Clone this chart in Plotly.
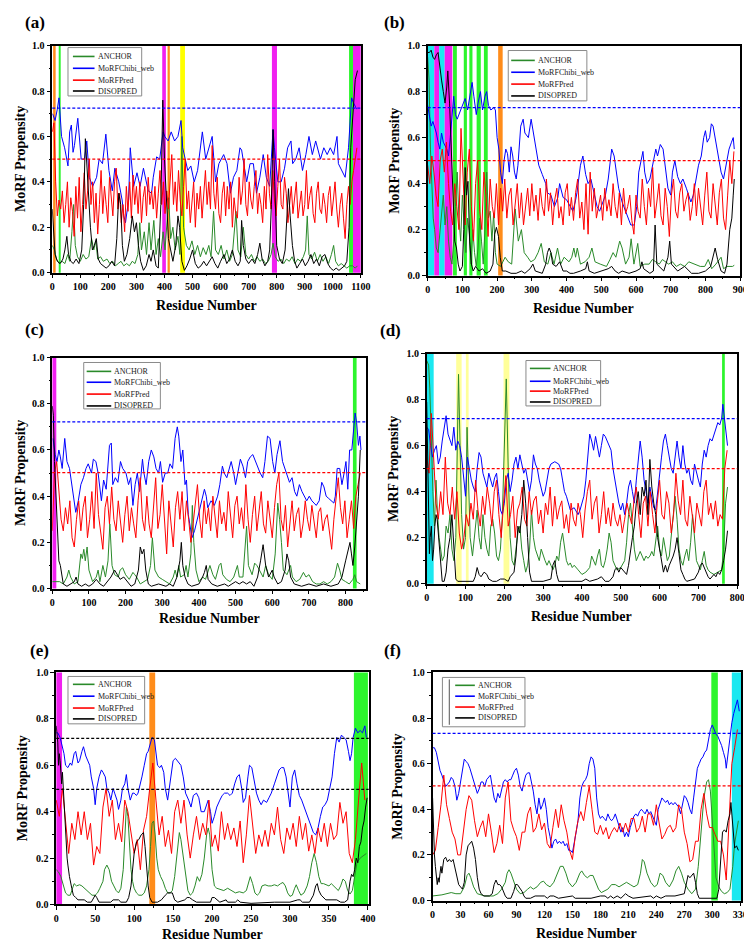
import plotly.graph_objects as go

W, H = 752, 941
SERIES_NAMES = ["ANCHOR", "MoRFChibi_web", "MoRFPred", "DISOPRED"]

# ---------------- Panel (a) ----------------
A_GREEN = [(0,0.12),(8,0.10),(15,0.06),(25,0.04),(35,0.05),(45,0.04),(55,0.08),(62,0.05),(70,0.18),(76,0.30),(82,0.12),(90,0.07),(100,0.05),(110,0.08),(120,0.06),(130,0.07),(140,0.15),(148,0.10),(155,0.14),(162,0.06),(172,0.07),(182,0.05),(195,0.06),(205,0.04),(215,0.05),(225,0.03),(235,0.04),(245,0.05),(255,0.03),(265,0.04),(275,0.03),(285,0.05),(295,0.04),(305,0.08),(312,0.22),(318,0.10),(328,0.18),(336,0.08),(345,0.22),(352,0.10),(362,0.23),(370,0.08),(378,0.15),(386,0.07),(395,0.18),(402,0.10),(415,0.33),(422,0.15),(430,0.20),(438,0.10),(448,0.16),(455,0.08),(462,0.60),(468,0.20),(478,0.12),(488,0.10),(498,0.14),(508,0.08),(518,0.12),(528,0.07),(538,0.11),(548,0.08),(558,0.12),(566,0.07),(575,0.27),(582,0.10),(592,0.08),(602,0.12),(612,0.06),(622,0.10),(632,0.05),(642,0.08),(655,0.27),(662,0.10),(672,0.07),(681,0.20),(690,0.08),(700,0.06),(710,0.08),(720,0.05),(730,0.07),(740,0.05),(750,0.06),(760,0.04),(770,0.05),(780,0.08),(787,0.13),(795,0.07),(805,0.05),(815,0.06),(825,0.04),(835,0.06),(845,0.05),(855,0.07),(865,0.04),(875,0.06),(885,0.05),(895,0.07),(903,0.10),(909,0.25),(915,0.08),(925,0.06),(935,0.09),(945,0.05),(955,0.08),(965,0.05),(975,0.07),(985,0.04),(995,0.08),(1003,0.12),(1010,0.05),(1020,0.03),(1030,0.04),(1040,0.03),(1050,0.02),(1060,0.03),(1070,0.03),(1080,0.02),(1088,0.03)]
A_BLUE = [(1,0.70),(10,0.67),(18,0.72),(24,0.77),(33,0.60),(44,0.55),(56,0.47),(62,0.62),(68,0.65),(74,0.53),(79,0.56),(91,0.68),(103,0.50),(115,0.50),(123,0.58),(132,0.42),(144,0.38),(158,0.42),(167,0.50),(179,0.48),(191,0.61),(202,0.45),(214,0.36),(223,0.46),(237,0.40),(249,0.32),(255,0.25),(261,0.22),(272,0.32),(278,0.55),(290,0.38),(302,0.44),(313,0.38),(325,0.46),(342,0.36),(354,0.35),(360,0.42),(372,0.51),(383,0.50),(395,0.62),(401,0.60),(413,0.58),(424,0.62),(436,0.58),(448,0.60),(459,0.67),(465,0.55),(483,0.45),(494,0.47),(506,0.40),(518,0.45),(535,0.62),(547,0.50),(559,0.55),(570,0.60),(582,0.40),(594,0.48),(611,0.52),(623,0.48),(635,0.35),(646,0.42),(658,0.45),(669,0.55),(675,0.54),(693,0.40),(705,0.48),(717,0.48),(728,0.35),(740,0.42),(752,0.52),(763,0.42),(775,0.38),(781,0.50),(787,0.63),(792,0.55),(804,0.40),(816,0.40),(828,0.46),(839,0.55),(851,0.58),(857,0.48),(868,0.50),(880,0.55),(892,0.45),(904,0.52),(915,0.60),(927,0.52),(939,0.58),(956,0.50),(968,0.55),(980,0.52),(991,0.55),(1003,0.52),(1015,0.60),(1020,0.48),(1032,0.45),(1044,0.42),(1056,0.55),(1067,0.77),(1073,0.75),(1085,0.72)]
A_RED_X = list(range(0, 1092, 6))
A_RED_Y = [0.62,0.66,0.40,0.25,0.32,0.28,0.36,0.22,0.30,0.40,
           0.20,0.33,0.27,0.16,0.38,0.24,0.42,0.18,0.30,0.44,
           0.28,0.36,0.50,0.30,0.40,0.22,0.35,0.17,0.30,0.45,
           0.26,0.38,0.30,0.22,0.42,0.32,0.25,0.40,0.46,0.28,
           0.35,0.22,0.30,0.18,0.38,0.27,0.40,0.24,0.43,0.30,
           0.38,0.26,0.40,0.22,0.33,0.38,0.25,0.42,0.30,0.36,
           0.28,0.38,0.24,0.35,0.45,0.30,0.40,0.26,0.36,0.28,
           0.42,0.52,0.30,0.40,0.27,0.45,0.32,0.25,0.38,0.50,
           0.28,0.36,0.22,0.32,0.40,0.20,0.35,0.28,0.38,0.24,
           0.34,0.45,0.30,0.40,0.28,0.56,0.35,0.28,0.42,0.26,
           0.22,0.35,0.40,0.25,0.38,0.28,0.40,0.20,0.33,0.26,
           0.24,0.42,0.30,0.36,0.50,0.30,0.25,0.40,0.32,0.28,
           0.38,0.45,0.26,0.35,0.30,0.22,0.38,0.28,0.52,0.35,
           0.28,0.45,0.32,0.25,0.38,0.50,0.30,0.28,0.42,0.35,
           0.22,0.32,0.38,0.26,0.35,0.40,0.24,0.30,0.36,0.25,
           0.30,0.45,0.28,0.34,0.38,0.26,0.22,0.35,0.40,0.28,
           0.26,0.35,0.30,0.22,0.34,0.38,0.25,0.32,0.40,0.28,
           0.20,0.30,0.35,0.24,0.15,0.30,0.38,0.30,0.40,0.45,
           0.50,0.55]
A_BLACK = [(0,0.28),(5,0.20),(10,0.08),(18,0.05),(28,0.04),(38,0.06),(45,0.10),(52,0.16),(58,0.08),(66,0.05),(75,0.04),(85,0.06),(95,0.04),(105,0.10),(112,0.30),(118,0.59),(124,0.45),(130,0.35),(136,0.20),(143,0.10),(150,0.12),(157,0.15),(164,0.06),(172,0.04),(182,0.03),(192,0.02),(202,0.03),(212,0.05),(222,0.03),(230,0.15),(237,0.35),(244,0.30),(250,0.12),(257,0.05),(266,0.08),(276,0.15),(285,0.25),(293,0.18),(300,0.22),(307,0.12),(315,0.05),(325,0.01),(335,0.03),(345,0.08),(352,0.05),(360,0.10),(370,0.03),(378,0.02),(387,0.30),(394,0.76),(400,0.50),(406,0.35),(414,0.15),(422,0.10),(430,0.05),(440,0.12),(448,0.25),(454,0.20),(462,0.05),(471,0.01),(480,0.03),(490,0.06),(500,0.10),(510,0.04),(520,0.02),(530,0.03),(540,0.05),(550,0.03),(560,0.05),(570,0.07),(580,0.04),(590,0.02),(600,0.05),(612,0.08),(622,0.04),(632,0.06),(642,0.10),(652,0.05),(662,0.03),(670,0.05),(675,0.23),(681,0.12),(690,0.06),(700,0.04),(712,0.06),(722,0.04),(732,0.08),(740,0.13),(748,0.06),(758,0.03),(768,0.05),(775,0.10),(781,0.30),(787,0.63),(793,0.40),(800,0.12),(810,0.06),(820,0.04),(830,0.10),(838,0.30),(842,0.37),(848,0.25),(856,0.12),(864,0.05),(872,0.02),(882,0.04),(892,0.06),(902,0.03),(912,0.05),(922,0.08),(932,0.04),(942,0.06),(952,0.03),(962,0.07),(972,0.08),(982,0.04),(992,0.02),(1002,0.01),(1012,0.02),(1022,0.01),(1032,0.02),(1042,0.03),(1050,0.05),(1058,0.20),(1064,0.55),(1072,0.72),(1080,0.85),(1088,0.89)]

# ---------------- Panel (b) ----------------
B_GREEN = [(0,0.95),(4,0.85),(8,0.55),(12,0.35),(16,0.25),(20,0.20),(25,0.12),(30,0.10),(35,0.18),(40,0.25),(45,0.35),(50,0.22),(55,0.30),(60,0.15),(65,0.08),(70,0.05),(75,0.15),(80,0.30),(85,0.45),(90,0.25),(95,0.15),(100,0.35),(105,0.20),(110,0.10),(115,0.25),(120,0.18),(125,0.05),(130,0.20),(135,0.10),(140,0.04),(145,0.12),(150,0.25),(155,0.15),(160,0.05),(165,0.20),(170,0.45),(175,0.25),(180,0.28),(185,0.15),(190,0.27),(195,0.10),(200,0.05),(210,0.04),(223,0.08),(232,0.06),(242,0.05),(252,0.29),(261,0.15),(270,0.20),(278,0.10),(288,0.08),(297,0.06),(308,0.07),(318,0.10),(327,0.14),(336,0.06),(346,0.05),(355,0.10),(364,0.05),(374,0.12),(383,0.05),(393,0.08),(407,0.06),(415,0.08),(421,0.12),(426,0.08),(431,0.12),(440,0.05),(453,0.06),(465,0.08),(473,0.12),(482,0.06),(497,0.05),(515,0.04),(525,0.07),(534,0.10),(542,0.08),(553,0.15),(560,0.12),(570,0.05),(580,0.08),(586,0.16),(594,0.05),(605,0.14),(612,0.04),(625,0.05),(638,0.05),(647,0.07),(657,0.06),(667,0.05),(676,0.07),(685,0.06),(694,0.05),(705,0.06),(716,0.04),(728,0.05),(740,0.04),(752,0.06),(770,0.05),(785,0.04),(798,0.04),(808,0.07),(818,0.03),(830,0.05),(845,0.08),(852,0.03),(862,0.04),(878,0.04),(883,0.045)]
B_BLUE = [(0,0.74),(5,0.70),(10,0.65),(15,0.67),(25,0.62),(30,0.58),(35,0.55),(40,0.62),(45,0.58),(55,0.55),(60,0.52),(65,0.60),(70,0.70),(75,0.78),(80,0.70),(85,0.68),(95,0.72),(100,0.74),(108,0.77),(115,0.72),(120,0.76),(128,0.84),(133,0.78),(140,0.70),(145,0.75),(152,0.80),(158,0.72),(165,0.78),(170,0.80),(175,0.74),(182,0.72),(190,0.73),(195,0.72),(200,0.60),(205,0.55),(210,0.45),(215,0.40),(220,0.50),(225,0.55),(230,0.53),(235,0.45),(240,0.56),(245,0.52),(250,0.45),(255,0.42),(260,0.48),(268,0.65),(275,0.68),(280,0.62),(290,0.60),(298,0.68),(305,0.62),(312,0.55),(320,0.48),(330,0.44),(340,0.40),(345,0.36),(355,0.35),(365,0.30),(375,0.34),(380,0.40),(390,0.34),(400,0.33),(410,0.30),(418,0.28),(425,0.32),(430,0.36),(440,0.48),(447,0.52),(455,0.44),(462,0.40),(470,0.42),(480,0.36),(488,0.30),(495,0.28),(505,0.32),(512,0.35),(520,0.42),(530,0.55),(537,0.52),(545,0.44),(550,0.38),(560,0.32),(570,0.28),(578,0.25),(585,0.22),(595,0.22),(602,0.30),(608,0.45),(615,0.50),(620,0.54),(625,0.45),(632,0.40),(640,0.42),(650,0.50),(657,0.55),(662,0.52),(670,0.57),(678,0.55),(685,0.45),(692,0.38),(700,0.35),(705,0.45),(712,0.50),(720,0.43),(728,0.40),(735,0.42),(745,0.38),(750,0.36),(758,0.32),(765,0.35),(772,0.42),(780,0.48),(788,0.52),(795,0.60),(800,0.63),(805,0.58),(812,0.60),(817,0.66),(822,0.65),(830,0.58),(838,0.50),(845,0.45),(852,0.42),(858,0.47),(862,0.50),(868,0.55),(875,0.58),(880,0.60),(883,0.55)]
B_RED_X = list(range(0, 888, 6))
B_RED_Y = [0.48,0.40,0.52,0.45,0.35,0.30,0.50,0.55,0.45,0.58,
           0.40,0.28,0.22,0.40,0.30,0.20,0.64,0.40,0.22,0.45,
           0.55,0.30,0.15,0.40,0.50,0.28,0.20,0.45,0.35,0.17,
           0.42,0.30,0.25,0.40,0.22,0.38,0.28,0.42,0.25,0.35,
           0.38,0.22,0.32,0.40,0.25,0.36,0.22,0.30,0.38,0.26,
           0.40,0.28,0.35,0.24,0.38,0.30,0.26,0.42,0.28,0.36,
           0.22,0.33,0.38,0.25,0.30,0.22,0.36,0.40,0.26,0.34,
           0.24,0.36,0.42,0.25,0.32,0.20,0.40,0.18,0.45,0.28,
           0.38,0.25,0.30,0.35,0.24,0.38,0.28,0.33,0.26,0.40,
           0.30,0.25,0.36,0.22,0.38,0.27,0.30,0.35,0.24,0.18,
           0.35,0.28,0.25,0.42,0.30,0.22,0.38,0.30,0.47,0.25,
           0.32,0.40,0.26,0.22,0.38,0.30,0.17,0.35,0.42,0.28,
           0.25,0.36,0.40,0.28,0.33,0.36,0.24,0.30,0.40,0.26,
           0.38,0.30,0.22,0.35,0.45,0.28,0.25,0.40,0.32,0.22,
           0.36,0.42,0.25,0.20,0.35,0.50,0.40,0.54]
B_BLACK = [(0,0.97),(5,0.97),(10,0.98),(15,0.95),(20,0.94),(25,0.96),(30,0.97),(35,0.90),(40,0.85),(45,0.80),(50,0.75),(55,0.82),(58,0.89),(63,0.75),(68,0.55),(73,0.30),(78,0.15),(83,0.12),(88,0.05),(93,0.02),(100,0.04),(104,0.20),(108,0.47),(112,0.35),(116,0.41),(121,0.15),(126,0.05),(131,0.02),(138,0.04),(148,0.02),(158,0.03),(168,0.01),(180,0.02),(188,0.05),(193,0.18),(198,0.21),(204,0.17),(209,0.08),(215,0.02),(225,0.02),(240,0.01),(255,0.01),(270,0.02),(280,0.01),(295,0.03),(303,0.05),(310,0.02),(330,0.01),(340,0.05),(345,0.10),(350,0.12),(355,0.10),(360,0.05),(370,0.04),(380,0.06),(390,0.02),(400,0.02),(410,0.01),(420,0.01),(440,0.02),(455,0.03),(460,0.06),(465,0.02),(480,0.01),(500,0.02),(520,0.03),(530,0.04),(540,0.02),(550,0.01),(560,0.02),(580,0.01),(600,0.02),(612,0.03),(617,0.06),(622,0.03),(640,0.01),(650,0.02),(655,0.22),(660,0.05),(680,0.02),(692,0.08),(697,0.15),(702,0.05),(720,0.02),(740,0.04),(760,0.01),(780,0.01),(800,0.02),(815,0.04),(828,0.12),(835,0.07),(845,0.02),(855,0.01),(862,0.05),(870,0.20),(876,0.25),(880,0.35),(883,0.42)]

# ---------------- Panel (c) ----------------
C_GREEN = [(0,0.03),(10,0.03),(20,0.03),(30,0.02),(40,0.05),(45,0.08),(50,0.05),(60,0.02),(70,0.03),(78,0.15),(82,0.13),(86,0.17),(90,0.12),(95,0.18),(100,0.08),(110,0.03),(120,0.05),(125,0.08),(130,0.03),(138,0.10),(145,0.05),(152,0.12),(157,0.28),(163,0.10),(170,0.06),(180,0.05),(185,0.08),(192,0.09),(200,0.06),(210,0.04),(220,0.07),(225,0.06),(230,0.05),(240,0.02),(250,0.03),(260,0.04),(268,0.10),(273,0.22),(280,0.08),(290,0.05),(300,0.04),(310,0.03),(320,0.02),(330,0.05),(335,0.08),(340,0.05),(345,0.10),(350,0.05),(360,0.06),(365,0.10),(370,0.05),(378,0.15),(382,0.36),(386,0.20),(392,0.08),(400,0.03),(410,0.05),(418,0.04),(425,0.08),(430,0.10),(438,0.06),(445,0.04),(455,0.10),(460,0.11),(465,0.06),(475,0.04),(485,0.03),(495,0.05),(505,0.10),(510,0.05),(520,0.05),(527,0.18),(530,0.27),(535,0.10),(545,0.06),(552,0.11),(558,0.10),(565,0.08),(575,0.05),(582,0.10),(590,0.06),(600,0.04),(608,0.15),(615,0.37),(620,0.30),(625,0.20),(630,0.08),(640,0.06),(650,0.10),(655,0.05),(665,0.03),(675,0.04),(685,0.07),(692,0.05),(700,0.06),(710,0.03),(720,0.02),(730,0.02),(740,0.03),(750,0.02),(760,0.03),(770,0.05),(778,0.11),(784,0.08),(790,0.04),(800,0.03),(810,0.02),(820,0.04),(825,0.06),(830,0.03),(840,0.02)]
C_BLUE = [(2,0.65),(8,0.58),(13,0.55),(18,0.60),(22,0.57),(27,0.52),(34,0.65),(40,0.55),(47,0.52),(54,0.45),(58,0.40),(64,0.33),(71,0.38),(78,0.45),(85,0.48),(92,0.52),(98,0.54),(107,0.50),(112,0.56),(119,0.55),(125,0.50),(134,0.38),(140,0.47),(147,0.43),(156,0.62),(161,0.63),(165,0.45),(172,0.48),(179,0.46),(186,0.55),(192,0.52),(201,0.50),(208,0.45),(214,0.48),(220,0.36),(226,0.45),(232,0.50),(238,0.42),(246,0.56),(250,0.50),(256,0.45),(263,0.55),(270,0.60),(277,0.57),(283,0.52),(290,0.50),(295,0.55),(301,0.46),(308,0.50),(315,0.50),(321,0.54),(328,0.52),(335,0.65),(341,0.70),(345,0.66),(351,0.55),(356,0.60),(362,0.45),(366,0.47),(371,0.32),(375,0.28),(381,0.22),(388,0.25),(396,0.30),(402,0.35),(408,0.38),(415,0.43),(420,0.40),(424,0.35),(433,0.38),(442,0.36),(451,0.40),(457,0.45),(464,0.53),(469,0.50),(476,0.48),(482,0.52),(488,0.55),(495,0.50),(500,0.45),(506,0.50),(513,0.56),(520,0.53),(527,0.48),(533,0.55),(540,0.57),(547,0.58),(554,0.55),(560,0.53),(567,0.50),(574,0.48),(580,0.55),(587,0.66),(594,0.65),(601,0.55),(607,0.50),(613,0.58),(621,0.64),(628,0.55),(634,0.52),(640,0.50),(647,0.46),(654,0.48),(661,0.42),(667,0.40),(674,0.45),(681,0.42),(687,0.40),(694,0.38),(701,0.40),(708,0.38),(714,0.37),(720,0.36),(728,0.38),(735,0.46),(741,0.44),(747,0.40),(754,0.39),(761,0.38),(768,0.37),(772,0.40),(777,0.52),(784,0.52),(790,0.45),(796,0.50),(801,0.55),(806,0.43),(811,0.60),(817,0.60),(823,0.70),(826,0.76),(830,0.72),(835,0.62),(839,0.66),(842,0.60)]
C_RED_X = list(range(0, 846, 6))
C_RED_Y = [0.25,0.50,0.55,0.40,0.30,0.25,0.35,0.28,0.38,0.22,
           0.18,0.30,0.38,0.25,0.35,0.40,0.22,0.30,0.42,0.26,
           0.50,0.32,0.25,0.17,0.35,0.40,0.28,0.44,0.30,0.25,
           0.38,0.28,0.20,0.32,0.40,0.25,0.35,0.28,0.22,0.38,
           0.48,0.30,0.25,0.40,0.28,0.22,0.35,0.48,0.26,0.32,
           0.45,0.30,0.15,0.38,0.28,0.18,0.35,0.42,0.30,0.42,
           0.25,0.38,0.30,0.20,0.28,0.36,0.45,0.30,0.22,0.38,
           0.28,0.35,0.25,0.40,0.30,0.22,0.38,0.28,0.33,0.25,
           0.42,0.30,0.22,0.36,0.40,0.28,0.35,0.26,0.45,0.30,
           0.20,0.32,0.40,0.25,0.35,0.42,0.28,0.24,0.38,0.30,
           0.22,0.35,0.45,0.50,0.30,0.25,0.36,0.18,0.28,0.38,
           0.25,0.32,0.35,0.22,0.28,0.38,0.30,0.25,0.36,0.28,
           0.22,0.33,0.35,0.25,0.30,0.32,0.24,0.17,0.30,0.40,
           0.48,0.35,0.28,0.38,0.22,0.30,0.38,0.26,0.40,0.45,
           0.50]
C_BLACK = [(0,0.79),(3,0.75),(6,0.55),(9,0.45),(12,0.30),(15,0.20),(18,0.12),(22,0.10),(26,0.05),(30,0.02),(40,0.01),(50,0.02),(60,0.03),(65,0.05),(70,0.02),(80,0.01),(90,0.02),(100,0.01),(110,0.02),(120,0.04),(130,0.02),(140,0.01),(150,0.03),(160,0.05),(170,0.08),(178,0.06),(185,0.04),(195,0.05),(205,0.03),(215,0.01),(225,0.02),(235,0.08),(240,0.18),(245,0.15),(250,0.17),(255,0.08),(262,0.02),(270,0.01),(290,0.02),(310,0.01),(320,0.02),(330,0.01),(340,0.05),(348,0.12),(352,0.20),(356,0.10),(362,0.05),(370,0.02),(380,0.01),(400,0.02),(410,0.05),(415,0.07),(420,0.10),(425,0.04),(435,0.02),(450,0.01),(470,0.02),(480,0.01),(490,0.02),(500,0.03),(510,0.02),(520,0.03),(530,0.02),(540,0.03),(550,0.01),(560,0.05),(568,0.12),(575,0.19),(582,0.10),(590,0.05),(600,0.08),(605,0.05),(615,0.02),(625,0.03),(635,0.08),(640,0.15),(645,0.12),(650,0.05),(660,0.02),(680,0.01),(700,0.02),(720,0.01),(740,0.02),(760,0.01),(780,0.02),(790,0.05),(800,0.12),(807,0.17),(812,0.20),(816,0.15),(820,0.10),(825,0.18),(830,0.28),(835,0.40),(840,0.60)]

# ---------------- Panel (d) ----------------
D_GREEN = [(0,0.97),(5,0.95),(8,0.85),(12,0.60),(16,0.40),(20,0.25),(24,0.45),(28,0.30),(32,0.20),(36,0.15),(40,0.10),(45,0.12),(50,0.25),(55,0.22),(60,0.30),(65,0.15),(70,0.10),(75,0.20),(78,0.50),(82,0.91),(86,0.60),(90,0.30),(95,0.15),(100,0.20),(104,0.68),(108,0.40),(112,0.20),(118,0.12),(125,0.25),(130,0.32),(135,0.20),(140,0.15),(145,0.30),(150,0.20),(155,0.15),(160,0.12),(165,0.25),(170,0.28),(175,0.22),(180,0.12),(185,0.10),(190,0.15),(195,0.30),(200,0.60),(205,0.89),(210,0.50),(215,0.20),(220,0.10),(225,0.08),(230,0.15),(235,0.22),(240,0.25),(245,0.15),(250,0.10),(255,0.05),(260,0.08),(265,0.15),(270,0.32),(275,0.20),(280,0.15),(285,0.12),(290,0.10),(295,0.15),(300,0.12),(305,0.10),(310,0.08),(315,0.10),(320,0.08),(325,0.06),(330,0.08),(335,0.12),(340,0.10),(345,0.18),(350,0.22),(355,0.15),(360,0.10),(365,0.08),(370,0.09),(375,0.07),(380,0.08),(390,0.06),(400,0.04),(410,0.05),(420,0.07),(425,0.12),(430,0.10),(435,0.08),(440,0.12),(445,0.15),(450,0.08),(455,0.07),(460,0.10),(465,0.15),(470,0.22),(475,0.18),(480,0.10),(485,0.08),(490,0.06),(500,0.07),(510,0.10),(515,0.18),(520,0.30),(525,0.35),(530,0.25),(535,0.15),(540,0.10),(545,0.12),(550,0.14),(555,0.12),(560,0.10),(565,0.12),(570,0.11),(575,0.12),(580,0.14),(585,0.12),(590,0.18),(595,0.25),(600,0.15),(605,0.12),(610,0.20),(615,0.15),(620,0.10),(625,0.12),(630,0.20),(635,0.30),(640,0.38),(645,0.28),(650,0.15),(655,0.10),(660,0.08),(665,0.12),(670,0.15),(675,0.10),(680,0.18),(685,0.30),(690,0.20),(695,0.10),(700,0.08),(705,0.06),(710,0.10),(715,0.14),(720,0.08),(725,0.06),(730,0.05),(740,0.04),(750,0.05),(760,0.06),(765,0.15),(770,0.35),(775,0.42)]
D_BLUE = [(0,0.68),(5,0.67),(10,0.60),(15,0.55),(20,0.58),(25,0.60),(30,0.52),(35,0.55),(40,0.62),(45,0.68),(50,0.73),(55,0.65),(60,0.62),(65,0.60),(70,0.68),(75,0.58),(80,0.62),(85,0.60),(90,0.55),(95,0.45),(100,0.38),(105,0.55),(110,0.50),(115,0.45),(120,0.42),(125,0.40),(130,0.50),(135,0.57),(140,0.55),(145,0.48),(150,0.45),(155,0.42),(160,0.48),(165,0.45),(170,0.42),(175,0.46),(180,0.48),(185,0.40),(190,0.32),(195,0.30),(200,0.35),(205,0.45),(210,0.48),(215,0.40),(220,0.45),(225,0.52),(230,0.55),(235,0.50),(240,0.56),(245,0.52),(250,0.48),(255,0.50),(260,0.45),(265,0.40),(270,0.45),(275,0.56),(280,0.52),(285,0.50),(290,0.45),(295,0.42),(300,0.38),(305,0.40),(310,0.45),(315,0.50),(320,0.52),(330,0.53),(340,0.52),(345,0.50),(350,0.45),(355,0.40),(360,0.38),(365,0.35),(370,0.32),(380,0.33),(390,0.30),(395,0.32),(400,0.35),(405,0.38),(410,0.45),(415,0.55),(420,0.65),(425,0.62),(430,0.58),(435,0.64),(440,0.60),(445,0.55),(450,0.60),(455,0.65),(460,0.64),(465,0.62),(470,0.60),(475,0.58),(480,0.50),(485,0.45),(490,0.40),(495,0.35),(500,0.32),(505,0.35),(510,0.30),(515,0.35),(520,0.42),(525,0.45),(530,0.40),(535,0.35),(540,0.45),(545,0.55),(550,0.62),(555,0.55),(560,0.45),(565,0.40),(570,0.35),(575,0.42),(580,0.38),(585,0.33),(590,0.32),(595,0.40),(600,0.50),(605,0.55),(610,0.62),(615,0.65),(620,0.60),(625,0.55),(630,0.50),(635,0.48),(640,0.55),(645,0.62),(650,0.55),(655,0.50),(660,0.60),(665,0.52),(670,0.48),(675,0.50),(680,0.45),(685,0.43),(690,0.52),(695,0.48),(700,0.45),(705,0.42),(710,0.52),(715,0.58),(720,0.55),(725,0.60),(730,0.63),(735,0.62),(740,0.65),(745,0.68),(750,0.70),(755,0.69),(760,0.72),(763,0.78),(768,0.70),(772,0.65),(775,0.60)]
D_RED_X = list(range(0, 780, 6))
D_RED_Y = [0.55,0.48,0.74,0.55,0.35,0.28,0.40,0.30,0.55,0.35,
           0.30,0.42,0.28,0.40,0.22,0.15,0.20,0.30,0.25,0.35,
           0.28,0.45,0.32,0.25,0.38,0.30,0.42,0.35,0.25,0.40,
           0.45,0.30,0.20,0.35,0.47,0.25,0.30,0.38,0.20,0.32,
           0.35,0.42,0.28,0.25,0.40,0.30,0.36,0.38,0.26,0.32,
           0.22,0.35,0.30,0.42,0.25,0.38,0.28,0.33,0.36,0.24,
           0.30,0.22,0.35,0.28,0.25,0.35,0.30,0.20,0.32,0.40,
           0.45,0.28,0.35,0.38,0.22,0.30,0.40,0.26,0.33,0.25,
           0.35,0.28,0.25,0.30,0.22,0.28,0.35,0.30,0.26,0.36,
           0.42,0.30,0.20,0.35,0.38,0.25,0.40,0.30,0.22,0.35,
           0.45,0.30,0.28,0.40,0.35,0.22,0.30,0.48,0.36,0.30,
           0.45,0.28,0.25,0.38,0.30,0.22,0.35,0.30,0.25,0.40,
           0.45,0.30,0.35,0.28,0.36,0.25,0.30,0.28,0.50,0.58]
D_BLACK = [(0,0.79),(3,0.55),(5,0.35),(7,0.13),(9,0.20),(12,0.25),(15,0.10),(18,0.15),(21,0.25),(24,0.30),(27,0.28),(30,0.22),(35,0.10),(40,0.01),(45,0.01),(50,0.05),(55,0.15),(60,0.20),(65,0.30),(70,0.15),(75,0.02),(80,0.01),(100,0.01),(120,0.01),(125,0.03),(130,0.07),(135,0.04),(140,0.03),(148,0.05),(155,0.04),(160,0.02),(170,0.01),(180,0.01),(190,0.02),(200,0.02),(210,0.01),(215,0.03),(220,0.04),(225,0.05),(230,0.12),(235,0.25),(240,0.22),(245,0.30),(250,0.45),(255,0.35),(260,0.20),(265,0.05),(270,0.01),(300,0.01),(320,0.02),(325,0.08),(330,0.10),(335,0.04),(340,0.01),(360,0.01),(380,0.01),(400,0.01),(410,0.02),(420,0.01),(440,0.02),(450,0.03),(460,0.01),(470,0.01),(480,0.03),(485,0.06),(490,0.07),(495,0.05),(500,0.07),(505,0.06),(510,0.05),(515,0.04),(520,0.08),(525,0.15),(530,0.20),(535,0.25),(540,0.35),(545,0.40),(550,0.30),(555,0.42),(560,0.38),(565,0.45),(570,0.30),(575,0.54),(580,0.42),(585,0.35),(590,0.30),(595,0.20),(600,0.15),(605,0.10),(610,0.05),(615,0.08),(620,0.05),(625,0.08),(630,0.10),(635,0.12),(640,0.15),(645,0.20),(650,0.13),(655,0.06),(660,0.04),(665,0.02),(670,0.01),(690,0.02),(700,0.05),(705,0.08),(710,0.09),(715,0.07),(720,0.05),(725,0.03),(730,0.02),(740,0.04),(745,0.03),(750,0.05),(755,0.04),(760,0.06),(765,0.10),(770,0.15),(775,0.23)]

# ---------------- Panel (e) ----------------
E_GREEN = [(0,0.15),(3,0.14),(6,0.12),(9,0.08),(12,0.05),(15,0.04),(18,0.04),(20,0.06),(23,0.09),(26,0.08),(30,0.085),(33,0.08),(36,0.07),(40,0.06),(43,0.05),(46,0.04),(50,0.04),(53,0.05),(56,0.07),(60,0.10),(62,0.15),(65,0.17),(68,0.15),(71,0.10),(74,0.08),(77,0.06),(80,0.05),(83,0.07),(86,0.15),(88,0.30),(90,0.42),(92,0.38),(94,0.25),(96,0.15),(98,0.10),(100,0.07),(103,0.05),(106,0.04),(110,0.04),(113,0.05),(116,0.08),(119,0.15),(121,0.25),(123,0.35),(125,0.36),(127,0.30),(129,0.20),(131,0.15),(134,0.12),(137,0.10),(140,0.07),(143,0.05),(146,0.05),(149,0.06),(152,0.12),(155,0.22),(158,0.31),(160,0.28),(163,0.20),(166,0.12),(169,0.06),(172,0.04),(175,0.05),(178,0.08),(181,0.12),(184,0.10),(187,0.13),(190,0.20),(193,0.30),(195,0.33),(197,0.30),(200,0.15),(203,0.08),(206,0.07),(210,0.065),(215,0.06),(220,0.07),(225,0.06),(230,0.05),(235,0.055),(240,0.05),(244,0.06),(247,0.10),(249,0.12),(252,0.09),(255,0.05),(258,0.04),(261,0.05),(264,0.08),(268,0.085),(272,0.08),(276,0.08),(280,0.085),(284,0.08),(288,0.09),(291,0.095),(294,0.08),(297,0.05),(300,0.035),(303,0.04),(306,0.07),(308,0.085),(311,0.06),(314,0.04),(318,0.05),(322,0.08),(325,0.12),(328,0.18),(331,0.22),(334,0.18),(337,0.12),(340,0.09),(343,0.09),(346,0.085),(350,0.08),(353,0.09),(356,0.08),(359,0.07),(362,0.06),(365,0.08),(368,0.11),(371,0.10),(374,0.06),(377,0.045),(380,0.06),(383,0.12),(386,0.18),(390,0.20),(394,0.21),(398,0.22)]
E_BLUE = [(0,0.74),(2,0.74),(5,0.72),(8,0.68),(10,0.65),(12,0.60),(15,0.59),(18,0.61),(20,0.60),(23,0.65),(25,0.66),(28,0.61),(30,0.62),(33,0.66),(35,0.68),(38,0.64),(40,0.62),(43,0.60),(45,0.55),(48,0.50),(50,0.43),(52,0.50),(55,0.55),(58,0.58),(60,0.57),(63,0.55),(65,0.50),(68,0.48),(70,0.45),(73,0.50),(75,0.48),(78,0.45),(80,0.41),(83,0.45),(85,0.50),(88,0.52),(90,0.56),(92,0.50),(95,0.45),(98,0.48),(100,0.48),(103,0.47),(105,0.48),(108,0.52),(110,0.55),(113,0.60),(116,0.65),(118,0.66),(120,0.68),(123,0.72),(126,0.71),(128,0.65),(130,0.60),(133,0.59),(135,0.60),(138,0.57),(140,0.50),(143,0.45),(145,0.50),(148,0.58),(150,0.62),(153,0.63),(155,0.62),(158,0.61),(160,0.60),(163,0.55),(166,0.48),(170,0.45),(173,0.42),(176,0.47),(180,0.48),(183,0.46),(186,0.40),(190,0.40),(193,0.43),(195,0.45),(198,0.40),(200,0.35),(203,0.38),(206,0.42),(210,0.45),(213,0.47),(216,0.48),(220,0.48),(223,0.47),(226,0.48),(229,0.52),(232,0.55),(235,0.56),(238,0.50),(240,0.44),(243,0.46),(246,0.55),(248,0.60),(251,0.59),(254,0.53),(257,0.48),(260,0.45),(263,0.43),(266,0.45),(270,0.44),(273,0.46),(276,0.48),(280,0.52),(283,0.55),(286,0.58),(289,0.59),(292,0.59),(295,0.55),(298,0.48),(300,0.42),(303,0.55),(306,0.58),(309,0.52),(312,0.47),(315,0.45),(318,0.42),(321,0.40),(324,0.37),(327,0.34),(330,0.31),(333,0.30),(336,0.33),(339,0.38),(342,0.42),(345,0.43),(348,0.45),(351,0.50),(354,0.55),(357,0.65),(360,0.72),(363,0.70),(366,0.73),(369,0.72),(372,0.71),(375,0.66),(377,0.62),(379,0.65),(381,0.72),(384,0.76),(387,0.74),(390,0.75),(393,0.74),(396,0.77),(398,0.72)]
E_RED_X = list(range(0, 400, 4))
E_RED_Y = [0.45,0.38,0.50,0.35,0.22,0.35,0.28,0.40,0.30,0.40,
           0.28,0.35,0.17,0.25,0.22,0.42,0.50,0.38,0.45,0.28,
           0.35,0.27,0.45,0.40,0.30,0.22,0.28,0.15,0.32,0.38,
           0.50,0.61,0.45,0.30,0.38,0.25,0.32,0.22,0.40,0.45,
           0.35,0.45,0.30,0.20,0.30,0.38,0.28,0.35,0.30,0.45,
           0.25,0.30,0.23,0.40,0.28,0.35,0.28,0.33,0.25,0.36,
           0.18,0.30,0.47,0.35,0.22,0.30,0.25,0.32,0.25,0.35,
           0.30,0.42,0.28,0.22,0.33,0.28,0.35,0.25,0.38,0.28,
           0.35,0.23,0.30,0.22,0.33,0.27,0.35,0.25,0.35,0.28,
           0.30,0.44,0.35,0.40,0.22,0.18,0.28,0.45,0.61,0.45]
E_BLACK = [(0,0.77),(1,0.72),(2,0.70),(3,0.60),(4,0.65),(5,0.62),(6,0.55),(7,0.52),(8,0.57),(9,0.50),(10,0.45),(11,0.40),(12,0.30),(13,0.25),(14,0.20),(15,0.17),(17,0.12),(20,0.07),(22,0.04),(25,0.03),(28,0.02),(36,0.02),(40,0.01),(45,0.01),(48,0.03),(50,0.04),(52,0.03),(55,0.01),(70,0.01),(73,0.02),(80,0.02),(83,0.01),(90,0.01),(93,0.03),(96,0.08),(98,0.15),(100,0.22),(103,0.27),(106,0.28),(109,0.30),(112,0.31),(114,0.25),(116,0.15),(118,0.08),(120,0.03),(123,0.01),(130,0.01),(135,0.02),(140,0.04),(143,0.05),(149,0.05),(152,0.02),(156,0.01),(165,0.02),(168,0.03),(171,0.03),(175,0.02),(180,0.01),(198,0.01),(200,0.03),(203,0.03),(206,0.02),(210,0.01),(218,0.02),(220,0.01),(230,0.01),(233,0.02),(236,0.01),(250,0.005),(280,0.01),(300,0.01),(310,0.02),(313,0.02),(316,0.01),(325,0.01),(330,0.04),(333,0.08),(335,0.09),(337,0.06),(340,0.04),(343,0.03),(346,0.02),(360,0.02),(365,0.01),(370,0.01),(374,0.02),(377,0.10),(379,0.13),(381,0.12),(383,0.15),(385,0.20),(387,0.18),(389,0.25),(391,0.27),(393,0.33),(395,0.36),(397,0.42),(399,0.46)]

# ---------------- Panel (f) ----------------
F_GREEN = [(0,0.02),(10,0.025),(20,0.035),(25,0.03),(30,0.03),(34,0.06),(37,0.11),(39,0.12),(41,0.10),(44,0.06),(48,0.03),(52,0.025),(56,0.02),(65,0.02),(70,0.03),(74,0.05),(78,0.08),(80,0.12),(82,0.135),(84,0.12),(87,0.08),(90,0.05),(94,0.03),(98,0.035),(102,0.05),(105,0.06),(108,0.05),(112,0.06),(116,0.08),(119,0.085),(122,0.07),(126,0.06),(130,0.08),(134,0.12),(137,0.15),(140,0.15),(143,0.12),(146,0.08),(150,0.06),(154,0.08),(158,0.12),(160,0.13),(163,0.11),(166,0.10),(169,0.11),(172,0.11),(175,0.08),(178,0.05),(181,0.035),(184,0.04),(188,0.05),(192,0.07),(196,0.07),(200,0.06),(204,0.07),(208,0.08),(212,0.07),(216,0.06),(220,0.07),(223,0.12),(225,0.18),(227,0.17),(230,0.12),(234,0.08),(238,0.06),(241,0.07),(244,0.12),(247,0.11),(250,0.08),(254,0.06),(258,0.09),(261,0.13),(264,0.15),(267,0.12),(270,0.08),(274,0.05),(278,0.03),(282,0.05),(285,0.15),(288,0.30),(291,0.45),(294,0.52),(296,0.53),(298,0.48),(300,0.35),(302,0.20),(304,0.10),(307,0.06),(310,0.04),(313,0.03),(316,0.035),(319,0.05),(322,0.15),(324,0.25),(326,0.30),(328,0.35)]
F_BLUE = [(0,0.67),(2,0.67),(4,0.65),(6,0.60),(8,0.57),(10,0.55),(12,0.52),(14,0.50),(16,0.51),(18,0.52),(20,0.54),(22,0.53),(24,0.50),(26,0.44),(28,0.47),(30,0.52),(32,0.58),(34,0.62),(36,0.61),(38,0.60),(40,0.58),(42,0.55),(44,0.52),(46,0.50),(48,0.47),(50,0.49),(52,0.52),(54,0.52),(56,0.50),(58,0.53),(60,0.54),(62,0.55),(64,0.50),(66,0.45),(68,0.43),(70,0.47),(72,0.45),(74,0.48),(76,0.52),(78,0.53),(80,0.52),(82,0.53),(84,0.53),(86,0.55),(88,0.57),(90,0.58),(92,0.55),(94,0.50),(96,0.48),(98,0.52),(100,0.55),(102,0.56),(104,0.56),(106,0.52),(108,0.48),(110,0.42),(112,0.38),(114,0.45),(116,0.40),(118,0.42),(120,0.45),(122,0.40),(124,0.32),(126,0.28),(128,0.23),(130,0.26),(132,0.27),(134,0.25),(136,0.26),(138,0.25),(140,0.26),(142,0.24),(144,0.25),(146,0.22),(148,0.22),(150,0.21),(152,0.25),(154,0.30),(156,0.35),(158,0.45),(160,0.50),(162,0.52),(164,0.53),(166,0.55),(168,0.60),(170,0.63),(172,0.62),(174,0.58),(176,0.45),(178,0.38),(180,0.36),(182,0.37),(184,0.36),(186,0.35),(188,0.38),(190,0.36),(192,0.35),(194,0.36),(196,0.38),(198,0.35),(200,0.33),(202,0.30),(204,0.32),(206,0.28),(208,0.30),(210,0.28),(212,0.32),(214,0.35),(216,0.37),(218,0.38),(220,0.37),(222,0.39),(224,0.40),(226,0.39),(228,0.38),(230,0.40),(232,0.38),(234,0.39),(236,0.37),(238,0.35),(240,0.33),(242,0.40),(244,0.43),(246,0.45),(248,0.44),(250,0.43),(252,0.44),(254,0.42),(256,0.43),(258,0.42),(260,0.43),(262,0.42),(264,0.41),(266,0.38),(268,0.42),(270,0.46),(272,0.45),(274,0.43),(276,0.40),(278,0.38),(280,0.45),(282,0.52),(284,0.58),(286,0.60),(288,0.62),(290,0.63),(292,0.65),(294,0.66),(296,0.70),(298,0.75),(300,0.77),(302,0.75),(304,0.73),(306,0.72),(308,0.70),(310,0.68),(312,0.65),(314,0.62),(315,0.58),(317,0.65),(319,0.72),(321,0.78),(323,0.82),(325,0.85),(327,0.88),(329,0.83)]
F_RED_X = list(range(0, 330, 3))
F_RED_Y = [0.20,0.22,0.32,0.42,0.55,0.42,0.36,0.30,0.27,0.20,
           0.20,0.30,0.40,0.46,0.44,0.35,0.28,0.32,0.35,0.28,
           0.38,0.30,0.21,0.25,0.33,0.25,0.45,0.52,0.35,0.31,
           0.28,0.22,0.30,0.30,0.38,0.41,0.30,0.32,0.38,0.31,
           0.34,0.25,0.23,0.32,0.40,0.32,0.42,0.35,0.30,0.22,
           0.18,0.28,0.35,0.39,0.35,0.43,0.50,0.40,0.30,0.29,
           0.33,0.29,0.32,0.27,0.30,0.32,0.30,0.34,0.30,0.34,
           0.30,0.36,0.36,0.30,0.32,0.37,0.30,0.38,0.38,0.33,
           0.42,0.34,0.27,0.29,0.32,0.33,0.30,0.32,0.42,0.40,
           0.30,0.25,0.17,0.18,0.26,0.26,0.40,0.47,0.38,0.32,
           0.32,0.29,0.26,0.26,0.20,0.09,0.35,0.60,0.67,0.75]
F_BLACK = [(0,0.45),(1,0.25),(2,0.20),(3,0.15),(4,0.09),(5,0.07),(6,0.10),(7,0.08),(8,0.12),(9,0.15),(10,0.12),(12,0.18),(14,0.19),(16,0.17),(18,0.18),(20,0.17),(22,0.18),(24,0.14),(26,0.10),(28,0.07),(30,0.06),(32,0.05),(34,0.08),(36,0.20),(38,0.24),(40,0.25),(42,0.26),(44,0.23),(46,0.18),(48,0.10),(50,0.05),(52,0.03),(55,0.02),(61,0.02),(64,0.03),(66,0.07),(68,0.09),(70,0.07),(72,0.07),(74,0.06),(76,0.04),(78,0.02),(80,0.01),(84,0.01),(87,0.04),(89,0.07),(91,0.07),(93,0.06),(96,0.04),(98,0.02),(100,0.01),(105,0.01),(110,0.02),(120,0.02),(123,0.01),(126,0.02),(130,0.02),(135,0.01),(150,0.02),(153,0.01),(170,0.01),(180,0.02),(185,0.02),(188,0.01),(191,0.02),(194,0.01),(198,0.02),(202,0.01),(207,0.03),(210,0.02),(215,0.01),(234,0.02),(237,0.01),(240,0.02),(245,0.01),(250,0.02),(260,0.02),(270,0.03),(272,0.08),(274,0.11),(276,0.10),(278,0.11),(280,0.12),(282,0.08),(284,0.03),(286,0.01),(305,0.01),(307,0.05),(309,0.20),(311,0.30),(313,0.31),(315,0.30),(317,0.35),(319,0.38),(320,0.43),(321,0.38),(323,0.30),(324,0.23),(326,0.24),(328,0.22)]

# ---------------- thresholds and highlighted regions ----------------
THRESHOLDS = {
    "a": [0.725, 0.50], "b": [0.73, 0.50], "c": [0.722, 0.502],
    "d": [0.717, 0.50], "e": [0.716, 0.496], "f": [0.733, 0.503],
}
REGIONS = {
    "a": [(3, 12, "orange"), (23, 30, "lime"), (392, 405, "magenta"), (411, 419, "orange"),
          (456, 473, "yellow"), (783, 801, "magenta"), (1058, 1072, "lime"), (1072, 1100, "magenta")],
    "b": [(0, 19, "cyan"), (19, 33, "magenta"), (33, 49, "cyan"), (49, 71, "magenta"),
          (73, 84, "lime"), (104, 113, "lime"), (120, 129, "lime"), (141, 153, "lime"),
          (162, 173, "lime"), (203, 216, "orange")],
    "c": [(0, 11, "magenta"), (820, 830, "lime")],
    "d": [(0, 18, "cyan"), (76, 90, "paleyellow"), (101, 108, "paleyellow"),
          (198, 213, "paleyellow"), (761, 768, "lime")],
    "e": [(0, 7.5, "magenta"), (119.5, 127, "orange"), (382, 400, "lime")],
    "f": [(299, 306, "lime"), (321, 331, "cyan")],
}
XRANGES = {"a": (0, 1100, 100), "b": (0, 900, 100), "c": (0, 855, 100),
           "d": (0, 800, 100), "e": (0, 401, 50), "f": (0, 331, 30)}

DATA = {
    "a": (A_GREEN, A_BLUE, (A_RED_X, A_RED_Y), A_BLACK),
    "b": (B_GREEN, B_BLUE, (B_RED_X, B_RED_Y), B_BLACK),
    "c": (C_GREEN, C_BLUE, (C_RED_X, C_RED_Y), C_BLACK),
    "d": (D_GREEN, D_BLUE, (D_RED_X, D_RED_Y), D_BLACK),
    "e": (E_GREEN, E_BLUE, (E_RED_X, E_RED_Y), E_BLACK),
    "f": (F_GREEN, F_BLUE, (F_RED_X, F_RED_Y), F_BLACK),
}

# ---------------- styling / layout (pixel geometry) ----------------
LINE_COLORS = ["#2a8a2a", "#0000ff", "#ff0000", "#000000"]
BAND_COLORS = {"orange": "#ff8c1a", "lime": "#2cf52c", "magenta": "#f020f0",
               "yellow": "#ffff00", "cyan": "#1ae8f0", "paleyellow": "#ffff99"}
SERIF = "Liberation Serif, Times New Roman, serif"
PANEL_BOX = {"a": (42, 356, 32, 262), "b": (424, 742, 32, 265), "c": (42, 361, 348, 582),
             "d": (423, 739, 344, 577), "e": (46, 364, 667, 902), "f": (429, 743, 667, 898)}
LABEL_POS = {"a": (12, 9), "b": (378, 9), "c": (12, 320), "d": (373, 321), "e": (17, 645), "f": (378, 645)}
YTITLE_X = {"a": 9, "b": 390, "c": 9, "d": 389, "e": 12, "f": 393}
XTITLE_POS = {"a": (295, "middle"), "b": (298, "middle"), "c": (612, "middle"),
              "d": (610, "middle"), "e": (941, "bottom"), "f": (940, "bottom")}
LEGEND_GEOM = {  # box x0,x1,y0,y1 ; item y ; line x0,x1 ; text x
    "a": ((58, 133, 34, 83), (43, 55, 67, 78), (63, 85), 86),
    "b": ((506, 586, 37, 88), (47, 59, 71, 83), (509, 533), 534),
    "c": ((74, 152, 353, 400), (362, 373, 385, 397), (77, 102), 103),
    "d": ((524, 600, 351, 397), (359, 372, 382, 393), (528, 549), 550),
    "e": ((58, 136, 671, 719), (679, 691, 703, 714), (63, 85), 86),
    "f": ((439, 523, 672, 722), (680, 691, 702, 713), (452, 472), 473),
}


def px(x):
    return x / W


def py(y):
    return 1 - y / H


def unzip(pairs):
    return [p[0] for p in pairs], [p[1] for p in pairs]


fig = go.Figure()
shapes = []
annotations = []
layout_axes = {}

for i, key in enumerate(["a", "b", "c", "d", "e", "f"], start=1):
    xa = "x" if i == 1 else f"x{i}"
    ya = "y" if i == 1 else f"y{i}"
    x0, x1, y0, y1 = PANEL_BOX[key]
    xr0, xr1, dt = XRANGES[key]
    axis_common = dict(showgrid=False, zeroline=False, showline=True, linecolor="black",
                       linewidth=1.5, mirror=True, ticks="outside", ticklen=4, tickwidth=1.2,
                       tickcolor="black",
                       tickfont=dict(family=SERIF, size=10, color="black", weight="bold"))
    layout_axes["xaxis" if i == 1 else f"xaxis{i}"] = dict(
        axis_common, domain=[px(x0), px(x1)], range=[xr0, xr1], anchor=ya,
        tick0=0, dtick=dt, minor=dict(ticks="outside", ticklen=2, dtick=dt / 2, tickcolor="black"))
    layout_axes["yaxis" if i == 1 else f"yaxis{i}"] = dict(
        axis_common, domain=[py(y1), py(y0)], range=[0, 1], anchor=xa,
        tick0=0, dtick=0.2, tickformat=".1f",
        minor=dict(ticks="outside", ticklen=2, dtick=0.1, tickcolor="black"))

    # highlighted regions
    for (r0, r1, cname) in REGIONS[key]:
        shapes.append(dict(type="rect", xref=xa, yref=f"{ya} domain", x0=r0, x1=r1, y0=0, y1=1,
                           fillcolor=BAND_COLORS[cname], line=dict(width=0), layer="below"))

    # series
    green, blue, red, black = DATA[key]
    series = [unzip(green), unzip(blue), red, unzip(black)]
    for name, color, (sx, sy) in zip(SERIES_NAMES, LINE_COLORS, series):
        n = min(len(sx), len(sy))
        fig.add_trace(go.Scatter(x=sx[:n], y=sy[:n], mode="lines", name=name,
                                 line=dict(color=color, width=1.0), xaxis=xa, yaxis=ya,
                                 showlegend=False))

    # threshold lines
    thr_hi, thr_lo = THRESHOLDS[key]
    c_hi, c_lo = ("black", "black") if key == "e" else ("#0000ff", "#ff0000")
    for val, col in ((thr_hi, c_hi), (thr_lo, c_lo)):
        shapes.append(dict(type="line", xref=f"{xa} domain", yref=ya, x0=0, x1=1, y0=val, y1=val,
                           line=dict(color=col, width=1.3, dash="3px,2px"), layer="above"))

    # legend (drawn manually to match the compact original)
    (bx0, bx1, by0, by1), item_ys, (lx0, lx1), tx = LEGEND_GEOM[key]
    shapes.append(dict(type="rect", xref="paper", yref="paper", x0=px(bx0), x1=px(bx1),
                       y0=py(by1), y1=py(by0), fillcolor="white",
                       line=dict(color="#8a8a8a", width=1), layer="above"))
    if key == "f":
        shapes.append(dict(type="line", xref="paper", yref="paper", x0=px(446), x1=px(446),
                           y0=py(by1 - 2), y1=py(by0 + 2), line=dict(color="#555555", width=1),
                           layer="above"))
    for name, color, iy in zip(SERIES_NAMES, LINE_COLORS, item_ys):
        shapes.append(dict(type="line", xref="paper", yref="paper", x0=px(lx0), x1=px(lx1),
                           y0=py(iy), y1=py(iy), line=dict(color=color, width=1.6), layer="above"))
        annotations.append(dict(xref="paper", yref="paper", x=px(tx), y=py(iy), text=name,
                                showarrow=False, xanchor="left", yanchor="middle",
                                font=dict(family=SERIF, size=8, color="#222222")))

    # panel label and axis titles
    lx, ly = LABEL_POS[key]
    annotations.append(dict(xref="paper", yref="paper", x=px(lx), y=py(ly), text=f"({key})",
                            showarrow=False, xanchor="left", yanchor="middle",
                            font=dict(family=SERIF, size=17, color="black", weight="bold")))
    ty, tanchor = XTITLE_POS[key]
    annotations.append(dict(xref="paper", yref="paper", x=px((x0 + x1) / 2), y=py(ty),
                            text="Residue Number", showarrow=False, xanchor="center",
                            yanchor=tanchor, borderpad=0,
                            font=dict(family=SERIF, size=14, color="black", weight="bold")))
    annotations.append(dict(xref="paper", yref="paper", x=px(YTITLE_X[key]), y=py((y0 + y1) / 2),
                            text="MoRF Propensity", showarrow=False, textangle=-90,
                            xanchor="center", yanchor="middle",
                            font=dict(family=SERIF, size=14, color="black", weight="bold")))

fig.update_layout(width=W, height=H, margin=dict(l=0, r=0, t=0, b=0),
                  paper_bgcolor="white", plot_bgcolor="white", showlegend=False,
                  shapes=shapes, annotations=annotations, **layout_axes)

fig.write_html("out.html")
